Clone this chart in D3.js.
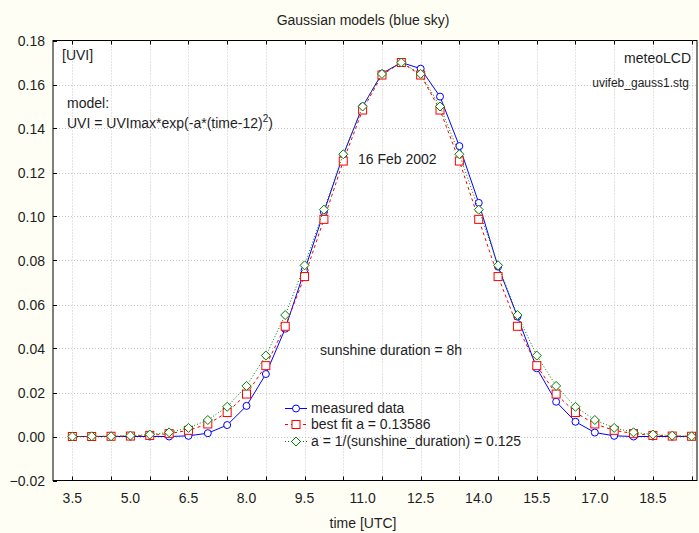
<!DOCTYPE html>
<html lang="en">
<head>
<meta charset="utf-8">
<style type="text/css">
  body { margin: 0; background: #fefef4; }
  text { font-family: "Liberation Sans", Arial, sans-serif; fill: #1e1e1e; }
  .grid line { stroke: #c8c8c8; stroke-width: 1px; stroke-dasharray: 1,2; }
  .frame { fill: #fff; stroke: #000; stroke-width: 1px; }
  .tick { stroke: #000; stroke-width: 1px; }
</style>
<script src="https://d3js.org/d3.v7.min.js"></script>
</head>
<body>
<div id="chart"></div>
<script>
// half-hour samples, 3.5 .. 19.5 UTC
var times = [3.5, 4.0, 4.5, 5.0, 5.5, 6.0, 6.5, 7.0, 7.5, 8.0, 8.5, 9.0, 9.5, 10.0, 10.5, 11.0, 11.5,
             12.0, 12.5, 13.0, 13.5, 14.0, 14.5, 15.0, 15.5, 16.0, 16.5, 17.0, 17.5, 18.0, 18.5, 19.0, 19.5];

var measured = [0, 0, 0, 0, 0, 0, 0.0003, 0.0015, 0.0052, 0.0139, 0.0284, 0.0490, 0.0755, 0.1020, 0.1280, 0.1500, 0.1650,
                0.1700, 0.1672, 0.1545, 0.1320, 0.1062, 0.0772, 0.0545, 0.0310, 0.0158, 0.0067, 0.0018, 0.0003, 0, 0, 0, 0];

var bestFit = [0.0000, 0.0000, 0.0001, 0.0002, 0.0005, 0.0013, 0.0028, 0.0057, 0.0109, 0.0193, 0.0322, 0.0501, 0.0727, 0.0987, 0.1252, 0.1484, 0.1643,
               0.1700, 0.1643, 0.1484, 0.1252, 0.0987, 0.0727, 0.0501, 0.0322, 0.0193, 0.0109, 0.0057, 0.0028, 0.0013, 0.0005, 0.0002, 0.0001];

var sunModel = [0.0000, 0.0001, 0.0001, 0.0004, 0.0009, 0.0019, 0.0039, 0.0075, 0.0135, 0.0230, 0.0368, 0.0552, 0.0778, 0.1031, 0.1283, 0.1500, 0.1648,
                0.1700, 0.1648, 0.1500, 0.1283, 0.1031, 0.0778, 0.0552, 0.0368, 0.0230, 0.0135, 0.0075, 0.0039, 0.0019, 0.0009, 0.0004, 0.0001];

var xTicks = [3.5, 4.5, 5.5, 6.5, 7.5, 8.5, 9.5, 10.5, 11.5, 12.5, 13.5, 14.5, 15.5, 16.5, 17.5, 18.5, 19.5];
var xLabels = [3.5, 5.0, 6.5, 8.0, 9.5, 11.0, 12.5, 14.0, 15.5, 17.0, 18.5];
var yTicks = [-0.02, 0.00, 0.02, 0.04, 0.06, 0.08, 0.10, 0.12, 0.14, 0.16, 0.18];

var legendNames = ["measured data", "best fit a = 0.13586", "a = 1/(sunshine_duration) = 0.125"];

var W = 699, H = 533;
var L = 53, T = 40.5, R = 697, B = 480.5;

var svg = d3.select("#chart").append("svg")
    .attr("width", W).attr("height", H);

var x = d3.scaleLinear().domain([3, 19.64]).range([L, R]);
var y = d3.scaleLinear().domain([-0.02, 0.18]).range([B, T]);

svg.append("rect").attr("class", "frame")
    .attr("x", L).attr("y", T).attr("width", R - L).attr("height", B - T);

// grid
var grid = svg.append("g").attr("class", "grid");
grid.selectAll(".v").data(xTicks).enter().append("line")
    .attr("x1", function(d) { return Math.round(x(d)) + 0.5; })
    .attr("x2", function(d) { return Math.round(x(d)) + 0.5; })
    .attr("y1", T).attr("y2", B);
grid.selectAll(".h").data(yTicks.slice(1, -1)).enter().append("line")
    .attr("x1", L).attr("x2", R)
    .attr("y1", function(d) { return Math.round(y(d)) + 0.5; })
    .attr("y2", function(d) { return Math.round(y(d)) + 0.5; });

// inward ticks
var tk = svg.append("g");
xTicks.forEach(function(d) {
  var px = Math.round(x(d)) + 0.5;
  tk.append("line").attr("class", "tick").attr("x1", px).attr("x2", px).attr("y1", T).attr("y2", T + 4);
  tk.append("line").attr("class", "tick").attr("x1", px).attr("x2", px).attr("y1", B).attr("y2", B - 4);
});
yTicks.forEach(function(d) {
  var py = Math.round(y(d)) + 0.5;
  tk.append("line").attr("class", "tick").attr("x1", L).attr("x2", L + 4).attr("y1", py).attr("y2", py);
});

svg.selectAll(".ylab").data(yTicks).enter().append("text")
    .attr("x", 45).attr("y", function(d) { return y(d) + 5; })
    .attr("text-anchor", "end").style("font-size", "14px")
    .text(function(d) { return d3.format(".2f")(d); });

svg.selectAll(".xlab").data(xLabels).enter().append("text")
    .attr("x", function(d) { return x(d); }).attr("y", 503)
    .attr("text-anchor", "middle").style("font-size", "14px")
    .text(function(d) { return d3.format(".1f")(d); });

// series
var series = [
  {vals: measured, color: "#0000ff", dash: null, shape: "circle"},
  {vals: bestFit, color: "#ff0000", dash: "3,3", shape: "square"},
  {vals: sunModel, color: "#008000", dash: "1,2", shape: "diamond"}
];

function marker(g, shape, cx, cy, color) {
  if (shape == "circle") {
    g.append("circle").attr("cx", cx).attr("cy", cy).attr("r", 3.5)
      .attr("fill", "#fff").attr("stroke", color);
  } else if (shape == "square") {
    g.append("rect").attr("x", cx - 4).attr("y", cy - 4).attr("width", 8).attr("height", 8)
      .attr("fill", "#fff").attr("stroke", color);
  } else {
    g.append("path").attr("d", "M" + cx + "," + (cy - 4.5) + "L" + (cx + 4.5) + "," + cy + "L" + cx + "," + (cy + 4.5) + "L" + (cx - 4.5) + "," + cy + "Z")
      .attr("fill", "#fff").attr("stroke", color);
  }
}

var line = d3.line()
    .x(function(d, i) { return x(times[i]); })
    .y(function(d) { return y(d); });

series.forEach(function(s) {
  var g = svg.append("g");
  g.append("path").attr("d", line(s.vals)).attr("fill", "none")
    .attr("stroke", s.color).attr("stroke-width", 1)
    .attr("stroke-dasharray", s.dash);
  s.vals.forEach(function(v, i) { marker(g, s.shape, x(times[i]), y(v), s.color); });
});

// legend
var legY = [408, 424, 441];
series.forEach(function(s, i) {
  var g = svg.append("g");
  g.append("line").attr("x1", 285).attr("x2", 307).attr("y1", legY[i] + 0.5).attr("y2", legY[i] + 0.5)
    .attr("stroke", s.color).attr("stroke-dasharray", s.dash);
  marker(g, s.shape, 296, legY[i] + 0.5, s.color);
  g.append("text").attr("x", 311).attr("y", legY[i] + 5).style("font-size", "14px").text(legendNames[i]);
});

// labels
svg.append("text").attr("x", 363).attr("y", 25).attr("text-anchor", "middle")
    .style("font-size", "14px").text("Gaussian models (blue sky)");
svg.append("text").attr("x", 363).attr("y", 528).attr("text-anchor", "middle")
    .style("font-size", "14px").text("time [UTC]");
svg.append("text").attr("x", 62).attr("y", 60).style("font-size", "14px").text("[UVI]");
svg.append("text").attr("x", 691).attr("y", 63).attr("text-anchor", "end")
    .style("font-size", "14px").text("meteoLCD");
svg.append("text").attr("x", 689).attr("y", 87).attr("text-anchor", "end")
    .style("font-size", "12px").text("uvifeb_gauss1.stg");
svg.append("text").attr("x", 67).attr("y", 108).style("font-size", "14px").text("model:");
var f = svg.append("text").attr("x", 67).attr("y", 128).style("font-size", "14px");
f.append("tspan").text("UVI = UVImax*exp(-a*(time-12)");
f.append("tspan").attr("dy", -6).style("font-size", "10px").text("2");
f.append("tspan").attr("dy", 6).text(")");
svg.append("text").attr("x", 358).attr("y", 164).style("font-size", "14px").text("16 Feb 2002");
svg.append("text").attr("x", 320).attr("y", 355).style("font-size", "14px").text("sunshine duration = 8h");
</script>
</body>
</html>
